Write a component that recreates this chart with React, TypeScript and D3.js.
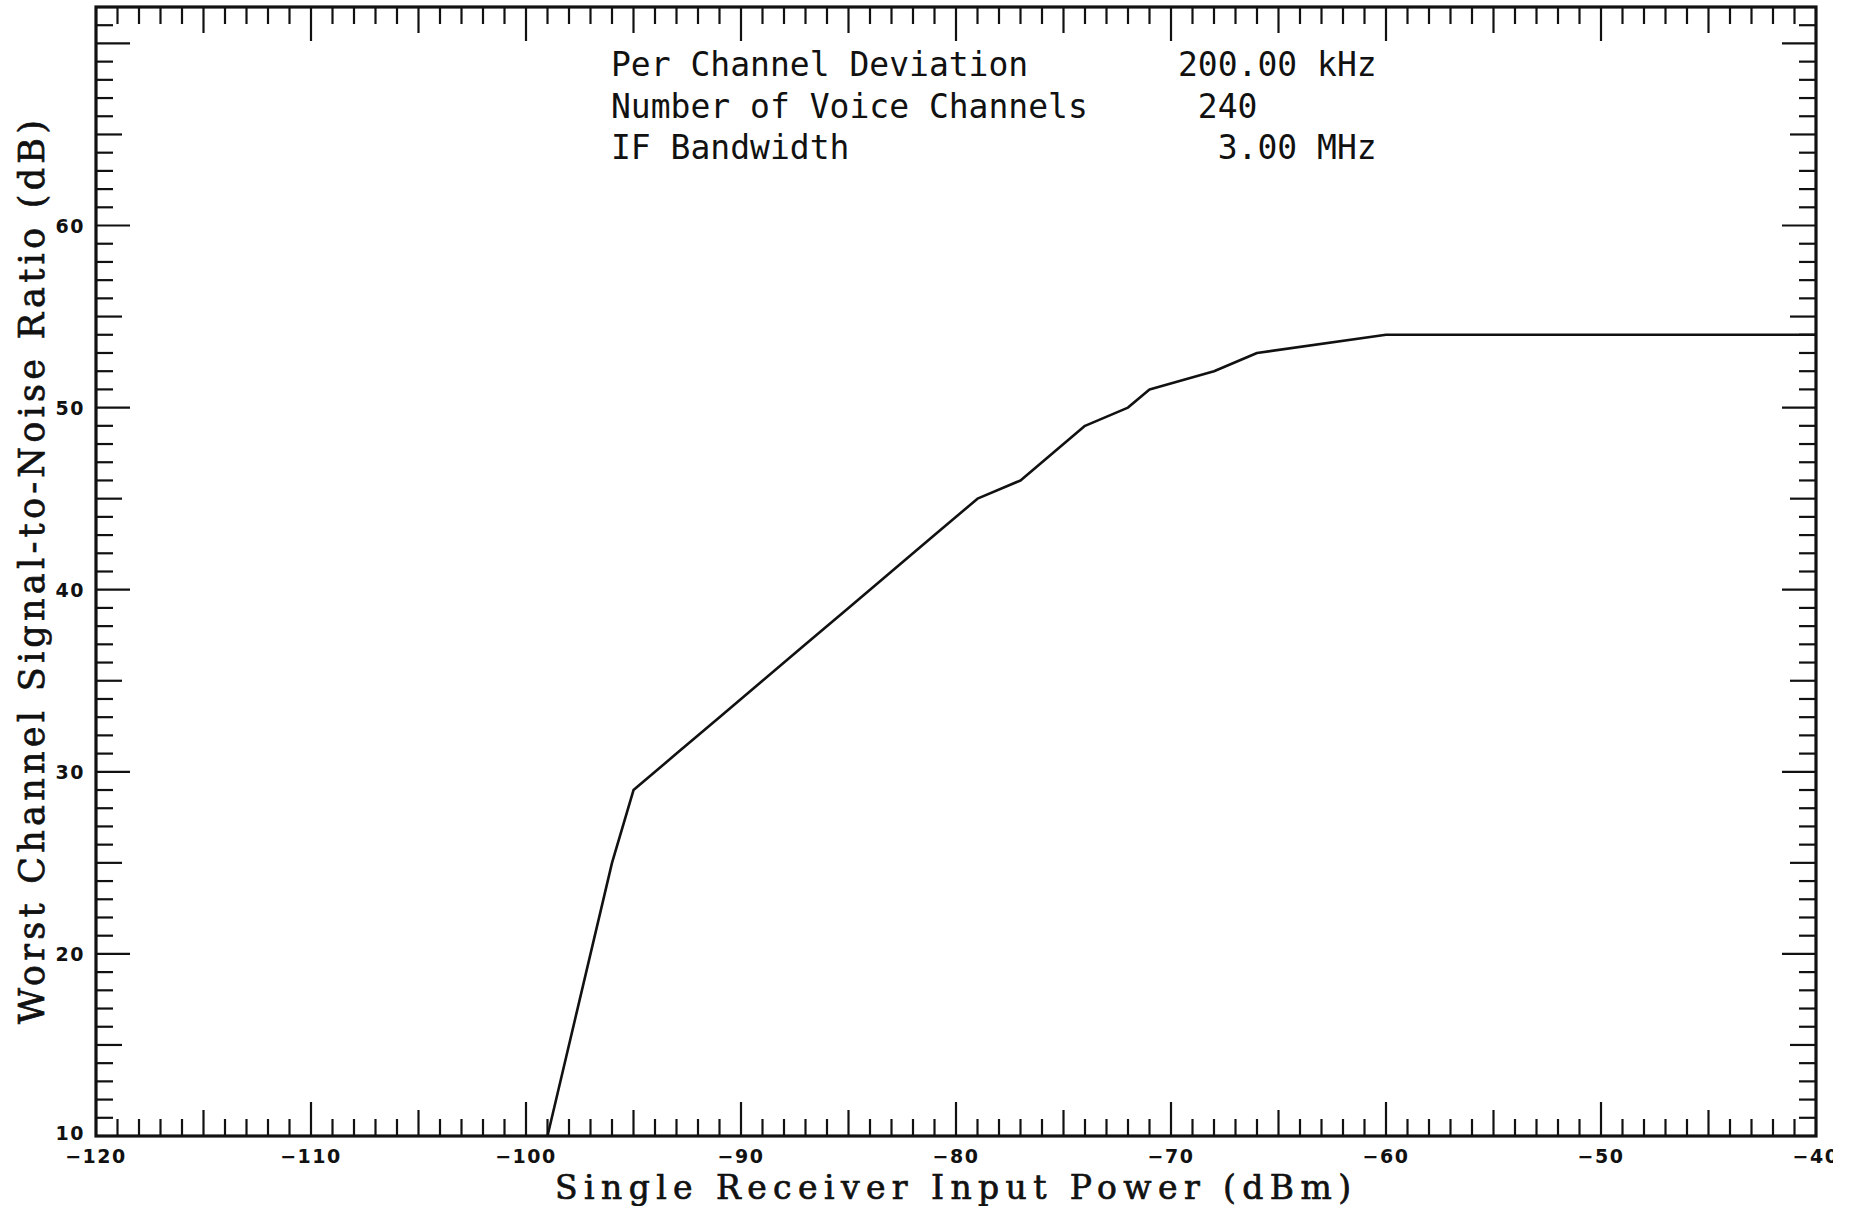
import * as d3 from "d3";
import React from "react";

// curve (dBm -> dB)
const inputPower = [-99, -96, -95, -93, -91, -89, -87, -85, -83, -81, -79, -77, -74, -72, -71, -68, -66, -60, -40];
const worstSnr = [10, 25, 29, 31, 33, 35, 37, 39, 41, 43, 45, 46, 49, 50, 51, 52, 53, 54, 54];

const xTickLabels = [-120, -110, -100, -90, -80, -70, -60, -50, -40];
const yTickLabels = [10, 20, 30, 40, 50, 60];

const infoLabels = ["Per Channel Deviation", "Number of Voice Channels", "IF Bandwidth"];
const infoValues = ["200.00 kHz", " 240", "  3.00 MHz"];

const W = 1857;
const H = 1206;
const left = 96;
const right = 1816;
const top = 7;
const bottom = 1136;

function tickLen(v: number) {
  if (v % 10 === 0) return 34;
  if (v % 5 === 0) return 26;
  return 17;
}

function App() {
  const x = d3.scaleLinear().domain([-120, -40]).range([left, right]);
  const y = d3.scaleLinear().domain([10, 72]).range([bottom, top]);

  const line = d3
    .line<number>()
    .x((d, i) => x(inputPower[i]))
    .y((d) => y(d));

  const xMinor = d3.range(-119, -40, 1);
  const yMinor = d3.range(11, 72, 1);
  const ink = "#111";

  return (
    <svg
      width={W}
      height={H}
      style={{ position: "absolute", left: 0, top: 0, background: "#fff" }}
    >
      <defs>
        <clipPath id="pageclip">
          <rect x={0} y={0} width={1833} height={H} />
        </clipPath>
      </defs>

      {/* bottom + top ticks */}
      <g stroke={ink} strokeWidth={2.2}>
        {xMinor.map((v) => (
          <g key={"x" + v}>
            <line x1={x(v)} x2={x(v)} y1={bottom} y2={bottom - tickLen(v)} />
            <line x1={x(v)} x2={x(v)} y1={top} y2={top + tickLen(v)} />
          </g>
        ))}
        {yMinor.map((v) => (
          <g key={"y" + v}>
            <line x1={left} x2={left + tickLen(v)} y1={y(v)} y2={y(v)} />
            <line x1={right} x2={right - tickLen(v)} y1={y(v)} y2={y(v)} />
          </g>
        ))}
      </g>

      <rect
        x={left}
        y={top}
        width={right - left}
        height={bottom - top}
        fill="none"
        stroke={ink}
        strokeWidth={3.2}
      />

      <path d={line(worstSnr) || ""} fill="none" stroke={ink} strokeWidth={2.6} strokeLinejoin="round" />

      {/* tick labels */}
      <g
        fontFamily="'DejaVu Sans', sans-serif"
        fontWeight="bold"
        fontSize={19}
        fill={ink}
        letterSpacing={1.5}
        clipPath="url(#pageclip)"
      >
        {xTickLabels.map((v) => (
          <text key={"xl" + v} x={x(v)} y={bottom + 27} textAnchor="middle">
            {"\u2212" + Math.abs(v)}
          </text>
        ))}
        {yTickLabels.map((v) => (
          <text
            key={"yl" + v}
            x={left - 11}
            y={y(v) + (v === 10 ? 4 : 7)}
            textAnchor="end"
          >
            {v}
          </text>
        ))}
      </g>

      {/* parameter block */}
      <g fontFamily="'DejaVu Sans Mono', monospace" fontSize={33} fill={ink} style={{ whiteSpace: "pre" }}>
        {infoLabels.map((t, i) => (
          <text key={"il" + i} x={611} y={76 + i * 41.5}>
            {t}
          </text>
        ))}
        {infoValues.map((t, i) => (
          <text key={"iv" + i} x={1178} y={76 + i * 41.5} xmlSpace="preserve">
            {t}
          </text>
        ))}
      </g>

      {/* axis titles */}
      <text
        x={953}
        y={1199}
        textAnchor="middle"
        fontFamily="'DejaVu Serif', serif"
        fontSize={33}
        fill={ink}
        stroke={ink}
        strokeWidth={0.7}
        textLength={796}
        lengthAdjust="spacing"
      >
        Single Receiver Input Power (dBm)
      </text>
      <text
        transform="translate(44,572) rotate(-90)"
        textAnchor="middle"
        fontFamily="'DejaVu Serif', serif"
        fontSize={35}
        fill={ink}
        stroke={ink}
        strokeWidth={0.7}
        textLength={904}
        lengthAdjust="spacing"
      >
        Worst Channel Signal-to-Noise Ratio (dB)
      </text>
    </svg>
  );
}

export default App;
